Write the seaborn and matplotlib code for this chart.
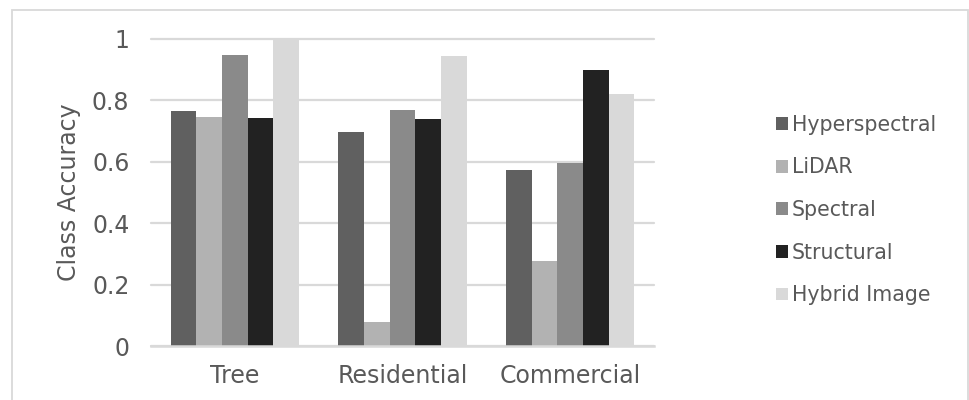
import matplotlib
matplotlib.use('Agg')
import matplotlib.pyplot as plt
import seaborn as sns
import pandas as pd
from matplotlib.patches import Patch, Rectangle

categories = ['Tree', 'Residential', 'Commercial']
series = ['Hyperspectral', 'LiDAR', 'Spectral', 'Structural', 'Hybrid Image']
hyperspectral = [0.765, 0.697, 0.573]
lidar = [0.746, 0.078, 0.277]
spectral = [0.948, 0.769, 0.596]
structural = [0.743, 0.739, 0.899]
hybrid = [1.0, 0.945, 0.821]
colors = ['#606060', '#b2b2b2', '#8a8a8a', '#222222', '#d9d9d9']
yticks = [0, 0.2, 0.4, 0.6, 0.8, 1]
ytick_labels = ['0', '0.2', '0.4', '0.6', '0.8', '1']
ylabel = 'Class Accuracy'

values = [hyperspectral, lidar, spectral, structural, hybrid]
rows = []
for s, vals in zip(series, values):
    for c, v in zip(categories, vals):
        rows.append({'Class': c, 'Series': s, 'Accuracy': v})
df = pd.DataFrame(rows)

sns.set_theme(style='white')
plt.rcParams['font.family'] = ['DejaVu Sans']
text_color = '#595959'
grid_color = '#d9d9d9'

fig = plt.figure(figsize=(9.7, 4.0), dpi=100)
ax = fig.add_axes([151 / 970, 1 - 346 / 400, 503 / 970, 307 / 400])

sns.barplot(data=df, x='Class', y='Accuracy', hue='Series', order=categories,
            hue_order=series, palette=colors, width=0.765, saturation=1,
            errorbar=None, ax=ax, legend=False, linewidth=0)

ax.set_ylim(0, 1)
ax.set_xlim(-0.5, 2.5)
ax.set_yticks(yticks)
ax.set_yticklabels(ytick_labels)
ax.set_axisbelow(True)
ax.yaxis.grid(True, color=grid_color, linewidth=1.6)
ax.xaxis.grid(False)
for gl in ax.get_ygridlines():
    gl.set_clip_on(False)
for side in ['left', 'right', 'top']:
    ax.spines[side].set_visible(False)
ax.spines['bottom'].set_color(grid_color)
ax.spines['bottom'].set_linewidth(1.8)
ax.tick_params(axis='y', length=0, pad=15.5, labelsize=17, labelcolor=text_color)
ax.tick_params(axis='x', length=0, pad=13, labelsize=17, labelcolor=text_color)
ax.set_xlabel('')
ax.set_ylabel(ylabel, fontsize=17, color=text_color)
ax.yaxis.set_label_coords(-0.14, 0.5)

handles = [Patch(facecolor=c, edgecolor='none', label=s) for c, s in zip(colors, series)]
fig.legend(handles=handles, loc='center left', bbox_to_anchor=(776 / 970, 1 - 210 / 400),
           frameon=False, fontsize=14.8, handlelength=0.58, handleheight=0.58,
           handletextpad=0.2, labelspacing=1.1, borderpad=0, borderaxespad=0,
           labelcolor=text_color)

border = Rectangle((12.5 / 970, -0.05), 956 / 970, 1.05 - 10 / 400,
                   transform=fig.transFigure, fill=False, edgecolor=grid_color,
                   linewidth=1.3, clip_on=False)
fig.patches.append(border)

fig.savefig('out.png', dpi=100)
